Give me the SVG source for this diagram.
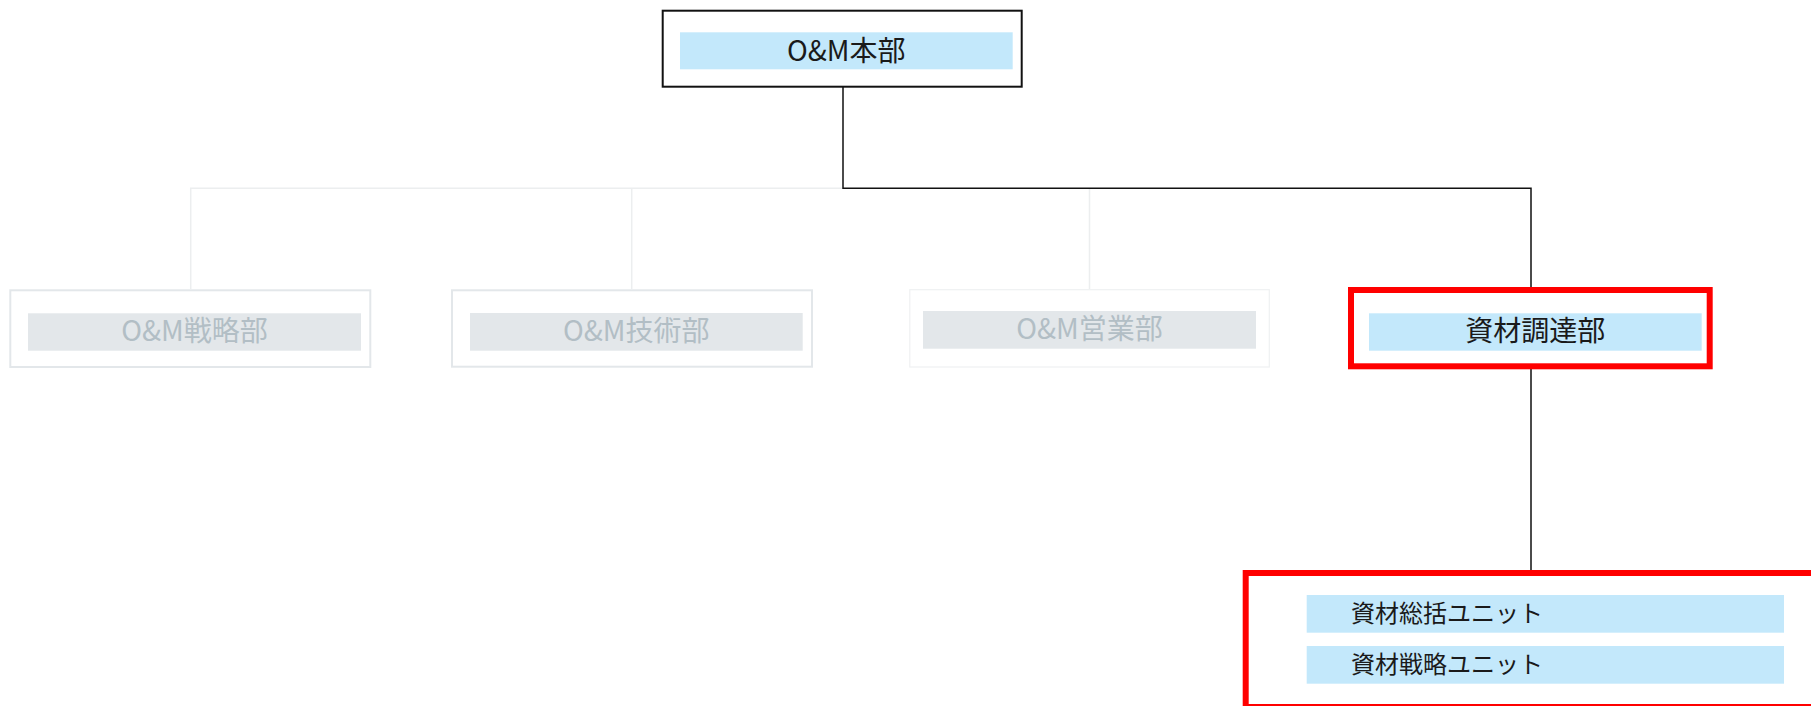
<svg xmlns="http://www.w3.org/2000/svg" width="1811" height="706" viewBox="0 0 1811 706">
<style>
text{font-family:"Noto Sans CJK JP","Noto Sans",sans-serif;dominant-baseline:central}
.blue{fill:#c3e8fb}
.gfill{fill:#e3e7ea}
.t{fill:#1a1a1a;font-size:28px}
.tg{fill:#b2bec5;font-size:28px}
.tu{fill:#1a1a1a;font-size:24px}
.gbox{fill:#fff;stroke:#e3e7ea;stroke-width:2}
.red{fill:#fff;stroke:#ff0000;stroke-width:6}
.bl{stroke:#111;stroke-width:1.5;fill:none}
.gl{stroke:#eceeef;stroke-width:1.5;fill:none}
</style>
<rect width="1811" height="706" fill="#fff"/>
<g id="connectors">
<path class="gl" d="M843 188.3H190.7V289M631.7 188.3V289M1089.5 188.3V289"/>
<path class="bl" d="M843 87V188.3H1531V290M1531 369V570"/>
</g>
<g id="n-hq">
<rect x="662.7" y="10.7" width="359" height="76" fill="#fff" stroke="#111" stroke-width="2"/>
<rect class="blue" x="680" y="32.3" width="332.7" height="37"/>
<text class="t" x="846.3" y="48.5" text-anchor="middle">O&amp;M本部</text>
</g>
<g id="n-strategy">
<rect class="gbox" x="10.3" y="290.3" width="360" height="76.7"/>
<rect class="gfill" x="28" y="313.3" width="333" height="37.4"/>
<text class="tg" x="194.5" y="329" text-anchor="middle">O&amp;M戦略部</text>
</g>
<g id="n-tech">
<rect class="gbox" x="452" y="290.3" width="360" height="76.4"/>
<rect class="gfill" x="470" y="313" width="332.7" height="37.7"/>
<text class="tg" x="636.3" y="329" text-anchor="middle">O&amp;M技術部</text>
</g>
<g id="n-sales">
<rect x="909.8" y="289.7" width="359.5" height="77.3" fill="#fff" stroke="#eff1f2" stroke-width="1.2"/>
<rect class="gfill" x="923" y="311" width="333" height="37.7"/>
<text class="tg" x="1089.5" y="327" text-anchor="middle">O&amp;M営業部</text>
</g>
<g id="n-procurement">
<rect class="red" x="1351" y="290" width="358.7" height="76.3"/>
<rect class="blue" x="1369" y="313.3" width="332.7" height="37.4"/>
<text class="t" x="1535.3" y="329" text-anchor="middle">資材調達部</text>
</g>
<g id="n-units">
<rect class="red" x="1245.7" y="573" width="600" height="134"/>
<rect class="blue" x="1306.7" y="595" width="477.3" height="37.7"/>
<text class="tu" x="1351" y="611.5">資材総括ユニット</text>
<rect class="blue" x="1306.7" y="646" width="477.3" height="37.7"/>
<text class="tu" x="1351" y="662.5">資材戦略ユニット</text>
</g>
</svg>
